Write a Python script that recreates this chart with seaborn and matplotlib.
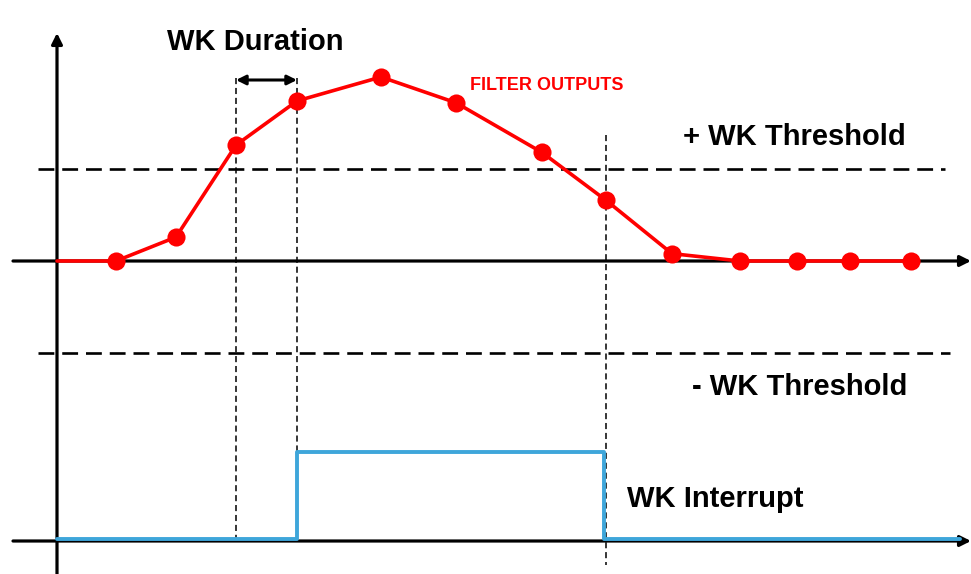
import numpy as np
import pandas as pd
import matplotlib.pyplot as plt
import seaborn as sns

# Filter output samples (x = time, amp = output, threshold = +/-1)
time = [57, 116, 176, 236, 297, 381, 456, 542, 606, 672, 740, 797, 850, 911]
amp = [0, 0, 0.26, 1.26, 1.74, 2.00, 1.72, 1.18, 0.66, 0.08, 0, 0, 0, 0]
threshold = 1.0

# WK interrupt signal (0 = low, 1 = high)
irq_time = [57, 297, 604, 960]
irq_level = [0, 1, 0, 0]

# Markers for the duration window and interrupt release
duration_start, duration_end = 236, 297
release_time = 606

sns.set_theme(style="white")
plt.rcParams['font.family'] = ['Liberation Sans', 'DejaVu Sans']

px = 92.0  # scale: one threshold unit
irq_base, irq_height = -3.02, 0.94

fig = plt.figure(figsize=(9.71, 5.74), dpi=100)
ax = fig.add_axes([0, 0, 1, 1])
ax.set_xlim(0, 971)
ax.set_ylim(-574 / px + 261 / px, 261 / px)
ax.axis('off')

red = '#ff0000'
blue = '#3ea6da'

# thresholds
ax.plot([38, 945], [threshold, threshold], color='black', lw=1.9, ls=(0, (6, 3)))
ax.plot([38, 950], [-threshold, -threshold], color='black', lw=1.9, ls=(0, (6, 3)))

# vertical dotted guide lines
top_y = (261 - 78) / px
ax.plot([duration_start] * 2, [top_y, (261 - 541) / px], color='black', lw=1.1, ls=(0, (4, 2.5)))
ax.plot([duration_end] * 2, [top_y, (261 - 541) / px], color='black', lw=1.1, ls=(0, (4, 2.5)))
ax.plot([release_time] * 2, [(261 - 135) / px, (261 - 565) / px], color='black', lw=1.1, ls=(0, (4, 2.5)))

# axes with arrows
arrow = dict(arrowstyle='-|>', color='black', lw=2.3, mutation_scale=16, shrinkA=0, shrinkB=0)
ax.annotate('', xy=(57, 261 / px - 33 / px), xytext=(57, -574 / px + 261 / px), arrowprops=arrow)
ax.annotate('', xy=(971, 0), xytext=(13, 0), arrowprops=arrow)
low_axis = (261 - 541) / px
ax.annotate('', xy=(971, low_axis), xytext=(13, low_axis), arrowprops=arrow)

# filter outputs
df = pd.DataFrame({'time': time, 'amp': amp})
sns.lineplot(data=df, x='time', y='amp', color=red, lw=2.6, ax=ax, zorder=4)
sns.scatterplot(data=df.iloc[1:], x='time', y='amp', color=red, s=170,
                edgecolor=red, linewidth=0, ax=ax, zorder=5)

# interrupt
irq = pd.DataFrame({'time': irq_time,
                    'level': [irq_base + v * irq_height for v in irq_level]})
sns.lineplot(data=irq, x='time', y='level', color=blue, lw=2.8,
             drawstyle='steps-post', ax=ax, zorder=4)

# duration arrow
ax.annotate('', xy=(duration_end, (261 - 80) / px), xytext=(duration_start, (261 - 80) / px),
            arrowprops=dict(arrowstyle='<|-|>', color='black', lw=2.2,
                            mutation_scale=14, shrinkA=0, shrinkB=0))

# labels
ax.text(255, (261 - 42) / px, 'WK Duration', fontsize=21, fontweight='bold',
        ha='center', va='center', color='black')
ax.text(547, (261 - 86) / px, 'FILTER OUTPUTS', fontsize=13, fontweight='bold',
        ha='center', va='center', color=red)
ax.text(794, (261 - 137) / px, '+ WK Threshold', fontsize=21, fontweight='bold',
        ha='center', va='center', color='black')
ax.text(800, (261 - 387) / px, '- WK Threshold', fontsize=21, fontweight='bold',
        ha='center', va='center', color='black')
ax.text(715, (261 - 499) / px, 'WK Interrupt', fontsize=21, fontweight='bold',
        ha='center', va='center', color='black')

ax.set_xlabel('')
ax.set_ylabel('')
fig.savefig('out.png', dpi=100)
